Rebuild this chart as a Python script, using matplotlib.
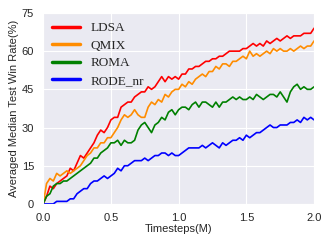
import numpy as np
import matplotlib.pyplot as plt
import seaborn as sns

sns.set_style('darkgrid')
plt.rcParams['font.family'] = ['Liberation Sans', 'DejaVu Sans']

steps = np.arange(81) * 0.025   # Timesteps (M)

ldsa = [0, 3, 7, 6, 8, 9, 10, 11, 14, 13, 16, 19, 18, 20, 22, 24, 27, 29, 28, 30,
        33, 34, 34, 38, 39, 40, 40, 42, 43, 44, 44, 46, 45, 46, 48, 50, 48, 50, 49, 50,
        49, 51, 51, 53, 53, 54, 54, 55, 56, 56, 57, 57, 58, 58, 59, 60, 60, 60, 60, 61,
        61, 62, 63, 62, 63, 62, 64, 63, 64, 65, 64, 65, 66, 65, 66, 66, 66, 67, 67, 67, 69]
qmix = [0, 8, 10, 9, 12, 11, 12, 13, 12, 13, 14, 15, 17, 19, 20, 22, 22, 24, 24, 26,
        26, 28, 30, 33, 35, 34, 35, 37, 35, 34, 34, 38, 40, 39, 41, 40, 43, 42, 44, 45,
        45, 47, 46, 48, 47, 49, 50, 51, 50, 52, 52, 54, 53, 55, 55, 54, 56, 56, 57, 58,
        57, 60, 58, 59, 58, 59, 60, 59, 61, 60, 61, 60, 60, 61, 60, 61, 62, 61, 62, 62, 64]
roma = [0, 3, 4, 7, 8, 8, 9, 9, 10, 11, 12, 13, 14, 15, 16, 18, 18, 20, 21, 22,
        24, 24, 25, 23, 25, 24, 24, 25, 29, 31, 32, 30, 28, 31, 32, 34, 33, 36, 37, 35,
        37, 38, 38, 37, 39, 40, 38, 40, 40, 39, 38, 40, 38, 40, 40, 41, 42, 41, 42, 41,
        41, 42, 41, 43, 42, 41, 42, 43, 43, 42, 44, 42, 40, 44, 46, 47, 45, 46, 45, 45, 46]
rode_nr = [0, 0, 0, 0, 1, 1, 1, 1, 2, 2, 4, 5, 6, 6, 8, 9, 9, 10, 11, 10,
           11, 12, 14, 13, 15, 15, 16, 17, 17, 17, 18, 17, 18, 19, 19, 20, 20, 19, 20, 19,
           19, 20, 21, 22, 22, 22, 22, 23, 22, 23, 24, 23, 22, 24, 23, 24, 25, 25, 26, 25,
           27, 26, 27, 28, 28, 29, 30, 31, 30, 30, 31, 31, 31, 32, 32, 33, 32, 34, 33, 34, 33]

fig = plt.figure(figsize=(3.32, 2.49), dpi=100)
ax = fig.add_axes([0.13, 0.181, 0.816, 0.767])

ax.plot(steps, ldsa, color='red', lw=1.2, label='LDSA')
ax.plot(steps, qmix, color='darkorange', lw=1.2, label='QMIX')
ax.plot(steps, roma, color='green', lw=1.2, label='ROMA')
ax.plot(steps, rode_nr, color='blue', lw=1.2, label='RODE_nr')

ax.set_xlim(0, 2.0)
ax.set_ylim(0, 75)
ax.set_xticks([0.0, 0.5, 1.0, 1.5, 2.0])
ax.set_yticks([0, 15, 30, 45, 60, 75])
ax.tick_params(labelsize=8, pad=3)
ax.set_xlabel('Timesteps(M)', fontsize=8, labelpad=1)
ax.set_ylabel('Averaged Median Test Win Rate(%)', fontsize=8, labelpad=2)

leg = ax.legend(loc='upper left', frameon=False, prop={'family': 'Liberation Serif', 'size': 9.5},
                handlelength=2.1, labelspacing=0.4, borderaxespad=0.3)
for h in leg.get_lines():
    h.set_linewidth(2.5)

fig.savefig('out.png', dpi=100)
